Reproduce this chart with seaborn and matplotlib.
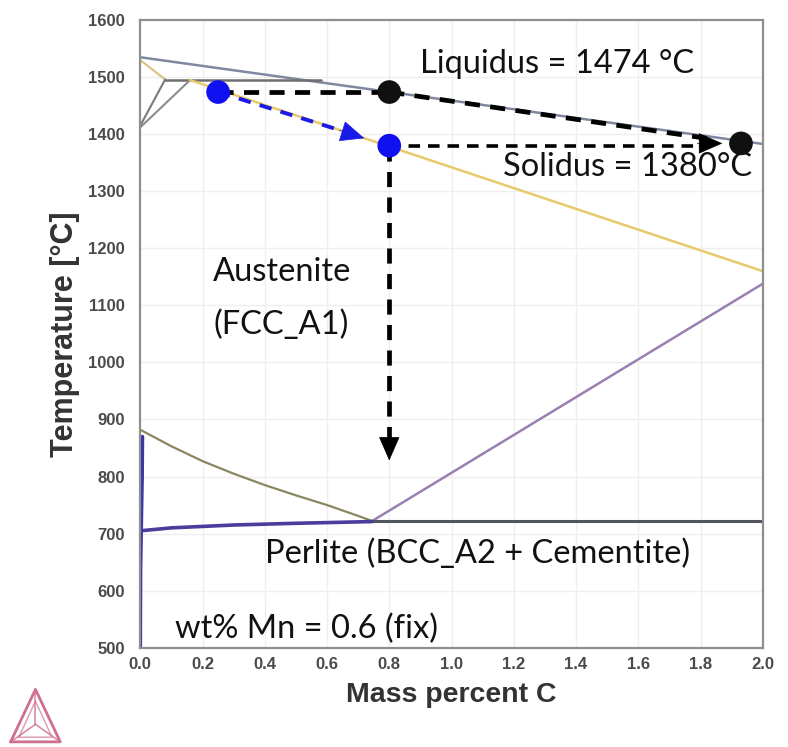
import numpy as np
import pandas as pd
import seaborn as sns
import matplotlib.pyplot as plt
from matplotlib.lines import Line2D

# Phase boundaries of the Fe-C-0.6Mn isopleth (mass percent C, temperature in degC)
liquidus_c = [0.0, 2.0]
liquidus_t = [1535, 1383]

peritectic_c = [0.08, 0.58]
peritectic_t = [1495, 1495]

delta_upper_c = [0.0, 0.08]
delta_upper_t = [1530, 1496]

delta_lower1_c = [0.0, 0.08]
delta_lower1_t = [1415, 1496]

delta_lower2_c = [0.0, 0.16]
delta_lower2_t = [1412, 1495]

solidus_c = [0.16, 2.0]
solidus_t = [1495, 1160]

a3_c = [0.0, 0.1, 0.2, 0.3, 0.4, 0.5, 0.6, 0.7, 0.745]
a3_t = [882, 853, 827, 805, 785, 767, 750, 731, 722]

acm_c = [0.745, 2.0]
acm_t = [722, 1138]

eutectoid_c = [0.745, 2.0]
eutectoid_t = [722, 722]

alpha_c = [0.004, 0.1, 0.3, 0.5, 0.745]
alpha_t = [705, 710, 715, 718, 721]

ferrite_c = [0.007, 0.006, 0.004, 0.003, 0.001, 0.0]
ferrite_t = [870, 800, 740, 705, 640, 500]

# Points of interest for the 0.8 %C alloy
liq_start = (0.25, 1474)
liq_point = (0.8, 1474)
sol_point = (0.8, 1380)
end_point = (1.93, 1384)
arrow_tip_blue = (0.72, 1393)
arrow_tip_right = (1.87, 1384)
arrow_tip_down = (0.8, 828)

x_ticks = [0.0, 0.2, 0.4, 0.6, 0.8, 1.0, 1.2, 1.4, 1.6, 1.8, 2.0]
y_ticks = [500, 600, 700, 800, 900, 1000, 1100, 1200, 1300, 1400, 1500, 1600]

sns.set_style("white")
plt.rcParams['font.family'] = ['Liberation Sans', 'DejaVu Sans']

fig = plt.figure(figsize=(7.88, 7.47), dpi=100)
ax = fig.add_axes([0.178, 0.133, 0.790, 0.840])

def boundary(cx, ty, color, lw=1.6):
    df = pd.DataFrame({"c": cx, "t": ty})
    sns.lineplot(data=df, x="c", y="t", ax=ax, color=color, lw=lw,
                 sort=False, estimator=None)

boundary(liquidus_c, liquidus_t, "#8088a0", 1.8)
boundary(peritectic_c, peritectic_t, "#6f6f6f", 1.8)
boundary(delta_upper_c, delta_upper_t, "#d8c27e", 1.5)
boundary(delta_lower1_c, delta_lower1_t, "#7a7a7a", 1.5)
boundary(delta_lower2_c, delta_lower2_t, "#8c8c8c", 1.5)
boundary(solidus_c, solidus_t, "#e8c96c", 1.8)
boundary(a3_c, a3_t, "#8a8660", 1.6)
boundary(acm_c, acm_t, "#9a80b2", 1.8)
boundary(eutectoid_c, eutectoid_t, "#50555f", 2.2)
boundary(alpha_c, alpha_t, "#4a3d9c", 2.6)
boundary(ferrite_c, ferrite_t, "#3a35a8", 2.6)

# Dashed guide lines
dash_k = dict(color="black", lw=3.4, dashes=(3.2, 2.2), solid_capstyle="butt",
              dash_capstyle="butt", zorder=4)
ax.plot([liq_start[0], liq_point[0]], [liq_start[1], liq_point[1]], **dash_k)
ax.plot([liq_point[0], arrow_tip_right[0] - 0.05],
        [liq_point[1], liq_point[1] + (end_point[1] - liq_point[1]) *
         (arrow_tip_right[0] - 0.05 - liq_point[0]) / (end_point[0] - liq_point[0])], **dash_k)
ax.plot([sol_point[0], arrow_tip_right[0] - 0.05], [sol_point[1], sol_point[1]],
        color="black", lw=2.6, dashes=(3.2, 2.2), dash_capstyle="butt", zorder=4)
ax.plot([sol_point[0], sol_point[0]], [sol_point[1], arrow_tip_down[1] + 30], **dash_k)
ax.plot([liq_start[0], arrow_tip_blue[0] - 0.03],
        [liq_start[1], liq_start[1] + (sol_point[1] - liq_start[1]) *
         (arrow_tip_blue[0] - 0.03 - liq_start[0]) / (sol_point[0] - liq_start[0])],
        color="#1a1ae6", lw=2.8, dashes=(3.2, 2.4), dash_capstyle="butt", zorder=4)

# Arrow heads
head = dict(arrowstyle="-|>,head_length=1.6,head_width=0.7", lw=0.5, shrinkA=0, shrinkB=0)
ax.annotate("", xy=arrow_tip_down, xytext=(arrow_tip_down[0], arrow_tip_down[1] + 40),
            arrowprops=dict(color="black", **head), zorder=5)
ax.annotate("", xy=arrow_tip_right, xytext=(arrow_tip_right[0] - 0.08, arrow_tip_right[1]),
            arrowprops=dict(color="black", **head), zorder=5)
ax.annotate("", xy=arrow_tip_blue,
            xytext=(arrow_tip_blue[0] - 0.08, arrow_tip_blue[1] + 0.08 * 171),
            arrowprops=dict(color="#1a1ae6", **head), zorder=5)

# Markers
pts = pd.DataFrame({
    "c": [liq_start[0], sol_point[0], liq_point[0], end_point[0]],
    "t": [liq_start[1], sol_point[1], liq_point[1], end_point[1]],
    "kind": ["blue", "blue", "black", "black"],
})
sns.scatterplot(data=pts, x="c", y="t", hue="kind",
                palette={"blue": "#1010f0", "black": "#101010"},
                s=290, edgecolor="none", legend=False, ax=ax, zorder=6)

# Labels
lab = dict(family=["Lato", "DejaVu Sans"], fontsize=23.5, color="#111111")
ax.text(0.90, 1523, "Liquidus = 1474 °C", va="center", ha="left", **lab)
ax.text(1.165, 1343, "Solidus = 1380°C", va="center", ha="left", **lab)
ax.text(0.234, 1159, "Austenite", va="center", ha="left", **lab)
ax.text(0.234, 1066, "(FCC_A1)", va="center", ha="left", **lab)
ax.text(0.40, 665, "Perlite (BCC_A2 + Cementite)", va="center", ha="left", **lab)
ax.text(0.112, 533, "wt% Mn = 0.6 (fix)", va="center", ha="left", **lab)

ax.set_xlim(0, 2.0)
ax.set_ylim(500, 1600)
ax.set_xticks(x_ticks)
ax.set_yticks(y_ticks)
ax.set_xticklabels([f"{v:.1f}" for v in x_ticks])
ax.grid(True, color="#efefef", lw=1.0)
ax.tick_params(axis="both", labelsize=12, colors="#8a8a8a", labelcolor="#4a4a4a",
               length=4, width=1, direction="out", pad=3)
ax.tick_params(axis="y", pad=7)
for t in ax.get_xticklabels() + ax.get_yticklabels():
    t.set_fontweight("bold")
for s in ax.spines.values():
    s.set_color("#8f8f8f")
    s.set_linewidth(1.6)
ax.set_xlabel("Mass percent C", fontsize=20.5, fontweight="bold", color="#333333", labelpad=7)
ax.set_ylabel("Temperature [°C]", fontsize=22, fontweight="bold", color="#333333", labelpad=6)

# Triangle logo in the bottom-left corner
lax = fig.add_axes([0.010, 0.003, 0.070, 0.078])
lax.set_xlim(0, 1)
lax.set_ylim(0, 1)
lax.axis("off")
pink = "#cf6f8f"
outer = np.array([[0.05, 0.05], [0.95, 0.05], [0.5, 0.95], [0.05, 0.05]])
inner = np.array([[0.2, 0.13], [0.8, 0.13], [0.5, 0.75], [0.2, 0.13]])
lax.add_line(Line2D(outer[:, 0], outer[:, 1], color=pink, lw=2))
lax.add_line(Line2D(inner[:, 0], inner[:, 1], color=pink, lw=1, alpha=0.7))
cen = (0.5, 0.35)
for vx, vy in outer[:3]:
    lax.add_line(Line2D([vx, cen[0]], [vy, cen[1]], color=pink, lw=1.2, alpha=0.8))

fig.savefig("out.png", dpi=100, facecolor="white")
